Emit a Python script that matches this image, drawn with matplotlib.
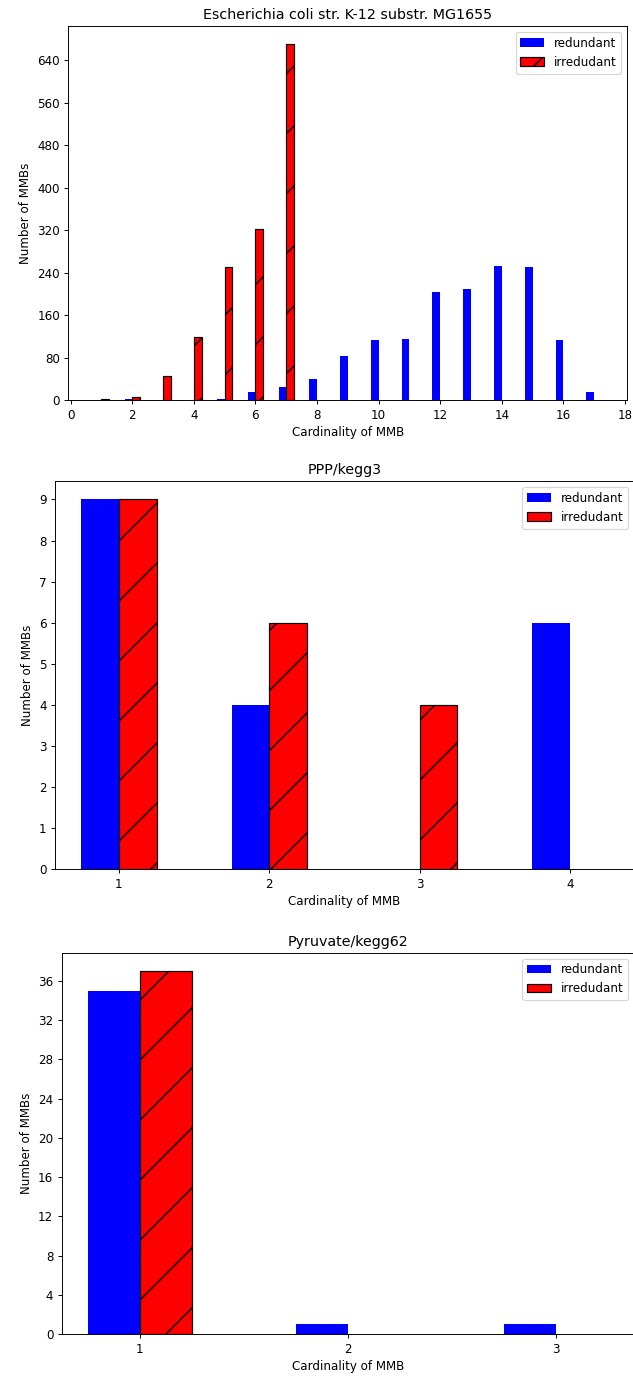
import matplotlib
matplotlib.use('Agg')
import matplotlib.pyplot as plt
import numpy as np

# ============================================
# data
# ============================================
ecoli_card = list(range(1, 18))
ecoli_red = [0, 3, 0, 0, 2, 16, 25, 40, 84, 113, 116, 204, 209, 253, 250, 113, 16]
ecoli_irr = [2, 7, 46, 119, 251, 322, 671, 0, 0, 0, 0, 0, 0, 0, 0, 0, 0]
ecoli_xticks = list(range(0, 19, 2))
ecoli_yticks = list(range(0, 641, 80))

ppp_card = [1, 2, 3, 4]
ppp_red = [9, 4, 0, 6]
ppp_irr = [9, 6, 4, 0]
ppp_yticks = list(range(0, 10))

pyr_card = [1, 2, 3]
pyr_red = [35, 1, 1]
pyr_irr = [37, 0, 0]
pyr_yticks = list(range(0, 37, 4))

# the reference was drawn at high dpi and shown at half size,
# so everything in points is scaled down to keep the wide hatch
W, H, DPI = 633, 1379, 180
S = 86 / DPI
plt.rcParams.update({
    'font.size': 10 * S,
    'axes.titlesize': 12 * S,
    'axes.linewidth': 0.8 * S,
    'axes.titlepad': 6 * S,
    'axes.labelpad': 4 * S,
    'xtick.major.size': 3.5 * S,
    'ytick.major.size': 3.5 * S,
    'xtick.major.width': 0.8 * S,
    'ytick.major.width': 0.8 * S,
    'xtick.major.pad': 3.5 * S,
    'ytick.major.pad': 3.5 * S,
    'patch.linewidth': 1.0 * S,
    'hatch.linewidth': 1.2 * S,
})

fig = plt.figure(figsize=(W / DPI, H / DPI), dpi=DPI)


def panel(box, title, card, red, irr, yticks, xticks):
    # box = (left, top, right, bottom) in pixels
    l, t, r, b = box
    ax = fig.add_axes([l / W, 1 - b / H, (r - l) / W, (b - t) / H])
    x = np.array(card, dtype=float)
    red = np.array(red)
    irr = np.array(irr)
    w = 0.25
    # zero counts are not drawn (no flat outline at the baseline)
    ax.bar(x[red > 0] - w / 2, red[red > 0], w, color='blue', label='redundant')
    ax.bar(x[irr > 0] + w / 2, irr[irr > 0], w, color='red', edgecolor='black',
           hatch='/', label='irredudant')
    # x range as autoscale would give for the full set of bars
    lo, hi = x.min() - w, x.max() + w
    pad = 0.05 * (hi - lo)
    ax.set_xlim(lo - pad, hi + pad)
    ax.set_title(title)
    ax.set_xlabel('Cardinality of MMB')
    ax.set_ylabel('Number of MMBs')
    ax.set_yticks(yticks)
    ax.set_xticks(xticks)
    ax.legend(loc='upper right')
    return ax


panel((68.3, 26, 627.3, 400.3), 'Escherichia coli str. K-12 substr. MG1655',
      ecoli_card, ecoli_red, ecoli_irr, ecoli_yticks, ecoli_xticks)
panel((55, 481, 634, 869.3), 'PPP/kegg3', ppp_card, ppp_red, ppp_irr, ppp_yticks, ppp_card)
panel((61.7, 952.7, 634, 1334.3), 'Pyruvate/kegg62', pyr_card, pyr_red, pyr_irr, pyr_yticks, pyr_card)

fig.savefig('out.png', dpi=DPI)
